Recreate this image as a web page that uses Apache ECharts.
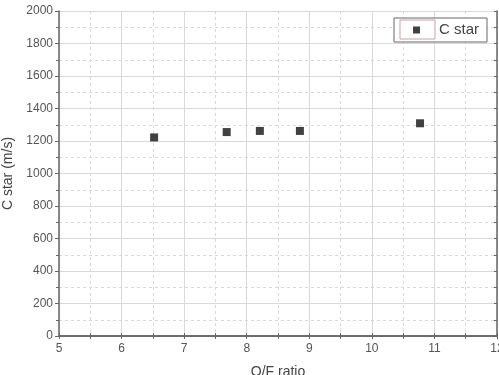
<!DOCTYPE html>
<html><head><meta charset="utf-8">
<script src="https://cdn.jsdelivr.net/npm/echarts@6/dist/echarts.min.js"></script>
<style>html,body{margin:0;padding:0;background:#fff}#c{width:499px;height:375px}</style>
</head><body><div id="c"></div>
<script>
const ofRatio = [6.52, 7.68, 8.21, 8.85, 10.77];
const cStar = [1222, 1255, 1262, 1262, 1309];
const seriesName = 'C star';
const xName = 'O/F ratio';
const yName = 'C star (m/s)';

const chart = echarts.init(document.getElementById('c'), null, {renderer: 'canvas'});
const axisColor = '#666';
const gridColor = '#d9d9d9';
const txt = '#555';
const font = 'Liberation Sans, Arial, sans-serif';
const plain = v => String(v);
chart.setOption({
  animation: false,
  backgroundColor: '#fff',
  grid: {left: 59, top: 11, right: 2, bottom: 39, show: false, containLabel: false, outerBoundsMode: 'none'},
  legend: {
    data: [{name: seriesName, icon: 'rect'}],
    left: 394, top: 18, orient: 'vertical',
    itemWidth: 7, itemHeight: 7, itemGap: 0,
    padding: [4, 8, 4, 19],
    borderColor: '#666', borderWidth: 1, backgroundColor: '#fff',
    textStyle: {fontSize: 15, lineHeight: 16, color: '#444', fontFamily: font, padding: [0, 0, 0, 14]}
  },
  graphic: [{
    type: 'rect', z: 100,
    shape: {x: 400, y: 20, width: 35, height: 19},
    style: {fill: 'none', stroke: '#c9a0a8', lineWidth: 1}
  }],
  xAxis: [{
    type: 'value', min: 5, max: 12, interval: 1,
    name: xName, nameLocation: 'middle', nameGap: 29,
    nameTextStyle: {fontSize: 14, color: '#444', fontFamily: font},
    axisLine: {lineStyle: {color: axisColor, width: 1.5}},
    axisTick: {inside: true, length: 3, lineStyle: {color: axisColor}},
    minorTick: {show: true, splitNumber: 2, length: 3, lineStyle: {color: axisColor}},
    axisLabel: {fontSize: 12, color: txt, fontFamily: font, margin: 7, formatter: plain},
    splitLine: {show: true, lineStyle: {color: gridColor, width: 1}},
    minorSplitLine: {show: true, lineStyle: {color: gridColor, type: [3, 3], width: 1}}
  }, {
    type: 'value', position: 'top', min: 5, max: 12, interval: 1,
    axisLine: {show: true, lineStyle: {color: axisColor, width: 1.5}},
    axisTick: {show: true, inside: true, length: 3, lineStyle: {color: axisColor}},
    minorTick: {show: true, splitNumber: 2, length: 3, lineStyle: {color: axisColor}},
    axisLabel: {show: false}, splitLine: {show: false}
  }],
  yAxis: [{
    type: 'value', min: 0, max: 2000, interval: 200,
    name: yName, nameLocation: 'middle', nameGap: 32, nameRotate: 90,
    nameTextStyle: {fontSize: 14, color: '#444', fontFamily: font},
    axisLine: {show: true, lineStyle: {color: axisColor, width: 1.5}},
    axisTick: {show: true, inside: false, length: 4, lineStyle: {color: axisColor}},
    minorTick: {show: true, splitNumber: 2, length: 3, lineStyle: {color: axisColor}},
    axisLabel: {fontSize: 12, color: txt, fontFamily: font, margin: 6, formatter: plain},
    splitLine: {show: true, lineStyle: {color: gridColor, width: 1}},
    minorSplitLine: {show: true, lineStyle: {color: gridColor, type: [3, 3], width: 1}}
  }, {
    type: 'value', position: 'right', min: 0, max: 2000, interval: 200,
    axisLine: {show: true, lineStyle: {color: axisColor, width: 1.5}},
    axisTick: {show: true, inside: true, length: 3, lineStyle: {color: axisColor}},
    minorTick: {show: true, splitNumber: 2, length: 3, lineStyle: {color: axisColor}},
    axisLabel: {show: false}, splitLine: {show: false}
  }],
  series: [{
    name: seriesName, type: 'scatter', symbol: 'rect', symbolSize: 8,
    itemStyle: {color: '#111'},
    data: ofRatio.map((x, i) => [x, cStar[i]])
  }]
});
</script></body></html>
